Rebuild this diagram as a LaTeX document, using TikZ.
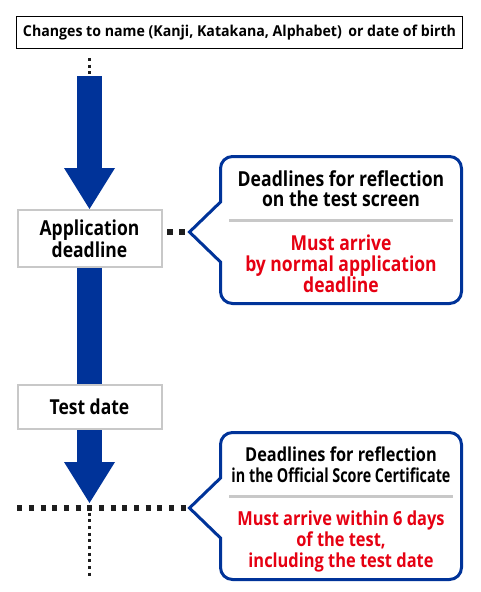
\documentclass[tikz,border=0pt]{standalone}
\usepackage{fontspec}
\setmainfont{Open Sans}[FakeStretch=0.85]
\usetikzlibrary{arrows.meta}
\definecolor{navy}{RGB}{0,51,153}
\definecolor{redtxt}{RGB}{230,0,18}
\definecolor{boxgray}{RGB}{200,200,200}
\definecolor{dotgray}{RGB}{30,30,30}
\begin{document}
\begin{tikzpicture}[x=1pt,y=-1pt,
  topbox/.style={draw=black,line width=1.3pt,fill=white,inner sep=0pt,minimum width=446pt,minimum height=32pt},
  stagebox/.style={draw=boxgray,line width=2pt,fill=white,inner sep=0pt,minimum width=144pt,align=center,font=\fontsize{20.6}{20}\selectfont\bfseries},
  fatarrow/.style={navy,line width=25pt,-{Triangle[width=51pt,length=41pt,line width=0pt]}},
  shaft/.style={navy,line width=25pt},
  callout/.style={draw=navy,line width=3pt,fill=white,line join=miter},
  sepline/.style={boxgray,line width=3pt},
  headtxt/.style={align=center,inner sep=0pt,text=black},
  redtext/.style={align=center,inner sep=0pt,text=redtxt},
  bigdots/.style={dotgray,line width=6pt,dash pattern=on 6pt off 6pt},
  hdots/.style={dotgray,line width=5.5pt,dash pattern=on 5pt off 6.67pt},
  smalldots/.style={dotgray,line width=3pt,dash pattern=on 3pt off 3.67pt}
]
\useasboundingbox (0,0) rectangle (480,592);
\fill[white] (0,0) rectangle (480,592);

% top box
\node[topbox] (top) at (239.5,32.5) {\resizebox{433pt}{\height}{\fontsize{15}{18}\selectfont\bfseries Changes to name (Kanji, Katakana, Alphabet)\ \,or date of birth}};

% coordinates
\coordinate (d1a) at (89,58);
\coordinate (d1b) at (89,74);
\coordinate (a1) at (89.5,76);
\coordinate (a2end) at (89.5,503);

% arrows
\node[stagebox,minimum height=57pt] (app) at (89.5,238.5) {Application\\deadline};
\node[stagebox,minimum height=44pt] (test) at (89.5,407) {Test date};
\draw[fatarrow] (a1) -- (app.north);
\draw[shaft] (app.south) -- (test.north);
\draw[fatarrow] (test.south) -- (a2end);
% redraw boxes on top
\node[stagebox,minimum height=57pt] at (app) {Application\\deadline};
\node[stagebox,minimum height=44pt] at (test) {Test date};

\draw[smalldots] (d1a) -- (d1b);

% callout 1
\coordinate (p1) at (189.5,232);
\draw[callout] (220.5,202) -- (220.5,168.5) arc[start angle=180,end angle=270,radius=12]
  -- (449.5,156.5) arc[start angle=270,end angle=360,radius=12]
  -- (461.5,291.5) arc[start angle=0,end angle=90,radius=12]
  -- (232.5,303.5) arc[start angle=90,end angle=180,radius=12]
  -- (220.5,262) -- (p1) -- cycle;
\node[headtxt,font=\fontsize{20.7}{20}\selectfont\bfseries] (h1) at (341,189) {Deadlines for reflection\\on the test screen};
\coordinate (s1a) at (229,220);
\coordinate (s1b) at (453,220);
\draw[sepline] (s1a) -- (s1b);
\node[redtext,font=\fontsize{20.6}{20.5}\selectfont\bfseries] (r1) at (341,264) {Must arrive\\by normal application\\deadline};

% connector dots 1
\coordinate (e1a) at (167,232);
\coordinate (e1b) at (185,232);
\draw[bigdots] (e1a) -- (e1b);

% callout 2
\coordinate (p2) at (189.5,508);
\draw[callout] (220.5,478) -- (220.5,444.5) arc[start angle=180,end angle=270,radius=12]
  -- (449.5,432.5) arc[start angle=270,end angle=360,radius=12]
  -- (461.5,567.5) arc[start angle=0,end angle=90,radius=12]
  -- (232.5,579.5) arc[start angle=90,end angle=180,radius=12]
  -- (220.5,538) -- (p2) -- cycle;
\node[headtxt,font=\fontsize{19.2}{21}\selectfont\bfseries] (h2) at (341,465) {Deadlines for reflection\\\resizebox{219pt}{\height}{in the Official Score Certificate}};
\coordinate (s2a) at (229,496);
\coordinate (s2b) at (453,496);
\draw[sepline] (s2a) -- (s2b);
\node[redtext,font=\fontsize{19.3}{21}\selectfont\bfseries] (r2) at (341,541) {Must arrive within 6 days\\of the test,\\including the test date};

% bottom dotted lines
\coordinate (h2a) at (17.3,508);
\coordinate (h2b) at (186,508);
\draw[hdots] (h2a) -- (h2b);
\coordinate (v2a) at (89.5,512.5);
\coordinate (v2b) at (89.5,576);
\draw[smalldots] (v2a) -- (v2b);
\end{tikzpicture}
\end{document}
